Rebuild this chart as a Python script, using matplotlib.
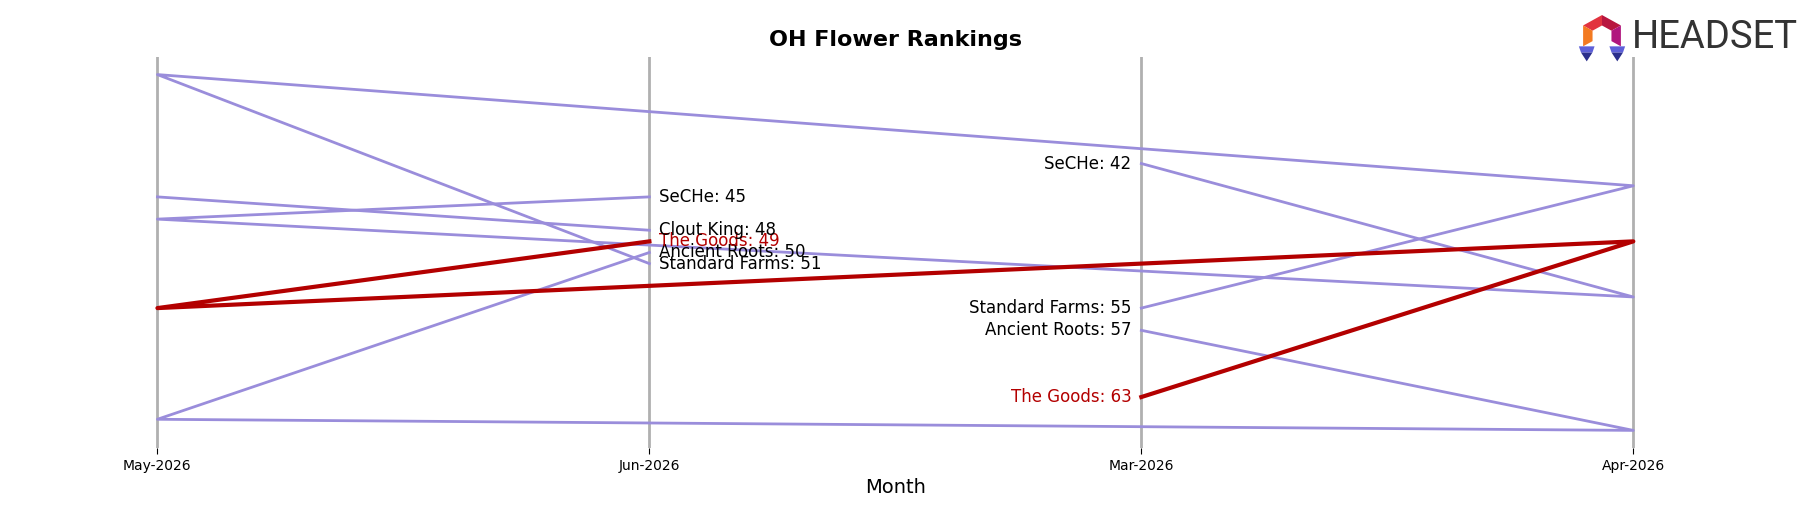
import matplotlib
matplotlib.use("Agg")
import matplotlib.pyplot as plt
from matplotlib.patches import Polygon
import numpy as np

# ---------------- data ----------------
months = ["May-2026", "Jun-2026", "Mar-2026", "Apr-2026"]   # category order on the axis
brands = ["Standard Farms", "SeCHe", "Ancient Roots", "The Goods", "Clout King"]

# ranks per brand, listed in the order the rows come (Mar, Apr, May, Jun)
row_months = {
    "Standard Farms": ["Mar-2026", "Apr-2026", "May-2026", "Jun-2026"],
    "SeCHe":          ["Mar-2026", "Apr-2026", "May-2026", "Jun-2026"],
    "Ancient Roots":  ["Mar-2026", "Apr-2026", "May-2026", "Jun-2026"],
    "The Goods":      ["Mar-2026", "Apr-2026", "May-2026", "Jun-2026"],
    "Clout King":     ["May-2026", "Jun-2026"],
}
ranks = {
    "Standard Farms": [55, 44, 34, 51],
    "SeCHe":          [42, 54, 47, 45],
    "Ancient Roots":  [57, 66, 65, 50],
    "The Goods":      [63, 49, 55, 49],
    "Clout King":     [45, 48],
}
highlight = "The Goods"
label_months = ["Jun-2026", "Mar-2026"]

purple = "#9a8ddb"
red = "#b30000"

# ---------------- plot ----------------
fig = plt.figure(figsize=(18.18, 5.07), dpi=100)
ax = fig.add_axes([0.046, 0.116, 0.893, 0.772])

xpos = {m: i for i, m in enumerate(months)}

for b in brands:
    xs = [xpos[m] for m in row_months[b]]
    ys = ranks[b]
    if b == highlight:
        ax.plot(xs, ys, color=red, lw=3, zorder=3)
    else:
        ax.plot(xs, ys, color=purple, lw=2, zorder=2)

# labels on Jun (right side) and Mar (left side)
for b in brands:
    col = red if b == highlight else "black"
    for m, r in zip(row_months[b], ranks[b]):
        if m not in label_months:
            continue
        if m == "Jun-2026":
            ax.annotate(f"{b}: {r}", (xpos[m], r), xytext=(7, 0),
                        textcoords="offset points", ha="left", va="center",
                        fontsize=12, color=col, zorder=4)
        else:
            ax.annotate(f"{b}: {r}", (xpos[m], r), xytext=(-7, 0),
                        textcoords="offset points", ha="right", va="center",
                        fontsize=12, color=col, zorder=4)

ax.set_xticks(range(len(months)))
ax.set_xticklabels(months, fontsize=10)
ax.set_yticks([])
ax.invert_yaxis()
ax.grid(axis="x", color="#b0b0b0", lw=2, zorder=0)
for s in ax.spines.values():
    s.set_visible(False)
ax.tick_params(axis="x", length=4, color="black")
ax.set_xlabel("Month", fontsize=14)
ax.set_title("OH Flower Rankings", fontsize=16, fontweight="bold", pad=8)

# ---------------- logo ----------------
lax = fig.add_axes([1578 / 1818, 1 - 62 / 507, 48 / 1818, 48 / 507])
lax.set_xlim(-1.1, 1.1)
lax.set_ylim(-1.25, 1.05)
lax.axis("off")
ang = np.deg2rad([90, 30, -30, -90, -150, 150])
ro, ri = 1.0, 0.5
out = np.c_[ro * np.cos(ang), ro * np.sin(ang)]
inn = np.c_[ri * np.cos(ang), ri * np.sin(ang)]
seg_cols = {(5, 0): "#e2333f", (0, 1): "#b8163f", (1, 2): "#b0167e", (4, 5): "#f37a21"}
for (i, j), c in seg_cols.items():
    lax.add_patch(Polygon([out[i], out[j], inn[j], inn[i]], closed=True,
                          fc=c, ec="none"))
# legs
for sgn in (-1, 1):
    x0 = sgn * 0.7
    lax.add_patch(Polygon([(x0 - 0.36, -0.5), (x0 + 0.36, -0.5), (x0 + 0.26, -0.8),
                           (x0 - 0.26, -0.8)], fc="#5d5fd8", ec="none"))
    lax.add_patch(Polygon([(x0 - 0.26, -0.8), (x0 + 0.26, -0.8), (x0, -1.22)],
                          fc="#2b2f8c", ec="none"))
fig.text(1632 / 1818, 1 - 38 / 507, "HEADSET", fontsize=27.5,
         family=["Roboto", "DejaVu Sans"], color="#333333",
         ha="left", va="center")

fig.savefig("out.png", dpi=100)
